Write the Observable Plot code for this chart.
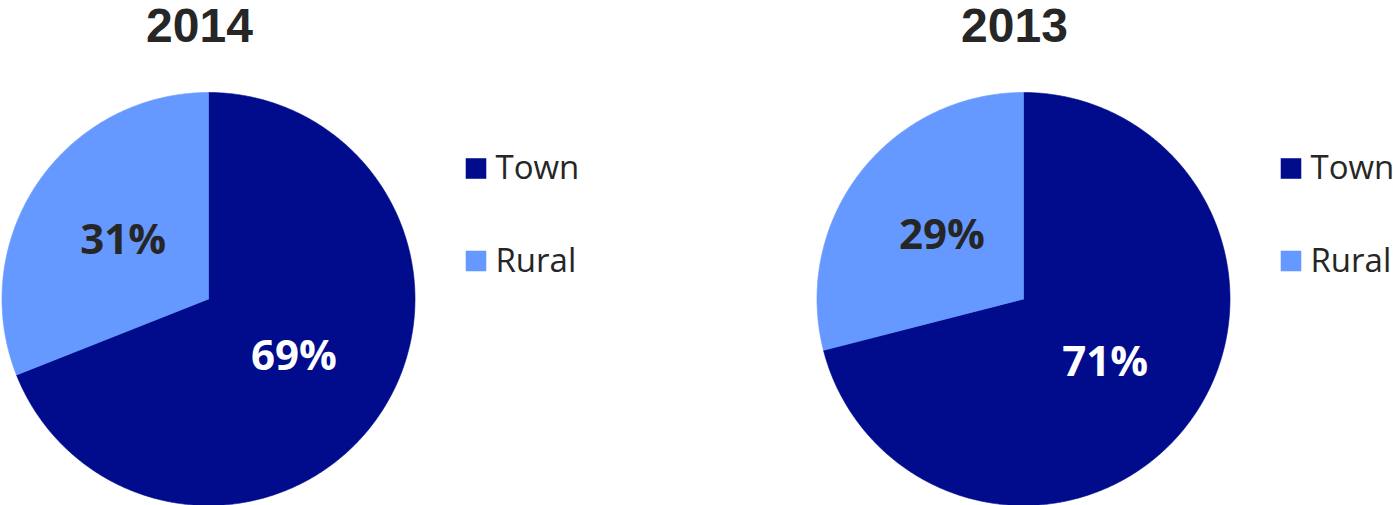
<!DOCTYPE html>
<html>
<head>
<meta charset="utf-8">
<script src="https://cdn.jsdelivr.net/npm/d3@7"></script>
<script src="https://cdn.jsdelivr.net/npm/@observablehq/plot@0.6"></script>
<style>
  html, body { margin: 0; padding: 0; background: #ffffff; }
  #chart { width: 1393px; height: 505px; overflow: hidden; }
</style>
</head>
<body>
<div id="chart"></div>
<script>
// ---- data ----
const years = ["2014", "2013"];
const categories = ["Town", "Rural"];
const townShare = [69, 71];
const ruralShare = [31, 29];
const palette = ["#000C8C", "#6699FF"];

// ---- layout ----
const W = 1393, H = 505, mt = 92;
const R = (H - mt) / 2;          // pixels per unit of pie radius
const step = 815, bw = 578;       // facet step and band width (px)
const cx = 208;                   // pie centre offset within facet (px)
const dark = "#262626";

const shares = {Town: townShare, Rural: ruralShare};
const slices = [];
const labels = [];
years.forEach((year, yi) => {
  let start = 0;
  categories.forEach((cat, ci) => {
    const v = shares[cat][yi];
    const a0 = start / 100 * 2 * Math.PI;
    const a1 = (start + v) / 100 * 2 * Math.PI;
    const key = year + "-" + cat;
    slices.push({year, category: cat, key, x: 0, y: 0});
    const n = Math.ceil(v * 6);
    for (let k = 0; k <= n; k++) {
      const a = a0 + (a1 - a0) * k / n;
      slices.push({year, category: cat, key, x: Math.sin(a), y: Math.cos(a)});
    }
    slices.push({year, category: cat, key, x: 0, y: 0});
    const am = (a0 + a1) / 2;
    const lab = d3.lab(palette[ci]).l;
    labels.push({year, category: cat, text: v + "%", onDark: lab < 50,
                 x: 0.5 * Math.sin(am), y: 0.5 * Math.cos(am)});
    start += v;
  });
});

const legend = categories.map((c, i) => ({category: c, x: (475.5 - cx) / R, y: (130.5 - 92.5 * i) / R}));

const chart = Plot.plot({
  width: W,
  height: H,
  marginTop: mt,
  marginBottom: 0,
  marginLeft: 0,
  marginRight: 0,
  style: {fontFamily: "'Open Sans', sans-serif", background: "#ffffff", overflow: "visible"},
  fx: {domain: years, paddingInner: (step - bw) / step, paddingOuter: 0, round: false, axis: null, label: null},
  x: {domain: [-cx / R, (bw - cx) / R], axis: null},
  y: {domain: [-1, 1], axis: null},
  color: {domain: categories, range: palette},
  marks: [
    Plot.line(slices, {x: "x", y: "y", z: "key", fx: "year", fill: "category", stroke: "category", strokeWidth: 0.6, curve: "linear"}),
    Plot.text(labels.filter(d => d.onDark), {x: "x", y: "y", fx: "year", text: "text", fill: "#ffffff", fontSize: 42, fontWeight: "bold"}),
    Plot.text(labels.filter(d => !d.onDark), {x: "x", y: "y", fx: "year", text: "text", fill: dark, fontSize: 42, fontWeight: "bold"}),
    Plot.text(years, {fx: d => d, x: () => 0, y: () => 1, text: d => d, dx: -9, dy: -51, lineAnchor: "bottom",
                      fill: dark, fontSize: 48, fontWeight: "bold", fontFamily: "'Liberation Sans', Arial, sans-serif"}),
    Plot.dot(legend, {x: "x", y: "y", fill: "category", symbol: "square", r: 11.6, stroke: null}),
    Plot.text(legend, {x: "x", y: "y", text: "category", dx: 19.5, textAnchor: "start", fill: dark, fontSize: 33})
  ]
});
document.getElementById("chart").appendChild(chart);
</script>
</body>
</html>
